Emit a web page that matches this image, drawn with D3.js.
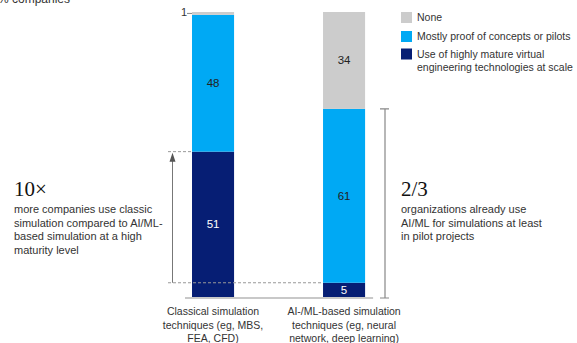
<!DOCTYPE html>
<html lang="en">
<head>
<meta charset="UTF-8">
<title>Simulation techniques</title>
<script src="https://d3js.org/d3.v7.min.js"></script>
<style>
  body { margin: 0; background: #fff; font-family: "Liberation Sans", Arial, Helvetica, sans-serif; }
  svg { display: block; }
</style>
</head>
<body>
<div id="chart"></div>
<script>
// data
var categories = ["Classical simulation techniques (eg, MBS, FEA, CFD)",
                  "AI-/ML-based simulation techniques (eg, neural network, deep learning)"];
var categoryLines = [["Classical simulation", "techniques (eg, MBS,", "FEA, CFD)"],
                     ["AI-/ML-based simulation", "techniques (eg, neural", "network, deep learning)"]];
var seriesNames = ["Use of highly mature virtual engineering technologies at scale",
                   "Mostly proof of concepts or pilots", "None"];
var matureValues = [51, 5];
var pilotValues = [48, 61];
var noneValues = [1, 34];
var colors = ["#061e74", "#00a9f4", "#cccccc"];

var width = 577, height = 343;
var svg = d3.select('#chart').append('svg')
  .attr('width', width)
  .attr('height', height);

var x = d3.scaleBand().domain(categories).range([126.5, 430.6]).paddingInner(0.679).paddingOuter(0.5);
var y = d3.scaleLinear().domain([0, 100]).range([297, 12]);

var rows = categories.map(function(c, i) {
  return { cat: c, mature: matureValues[i], pilot: pilotValues[i], none: noneValues[i] };
});
var stack = d3.stack().keys(["mature", "pilot", "none"])(rows);

// y axis label (cropped at top, as in the source)
svg.append('text')
  .attr('x', -2).attr('y', 3)
  .attr('font-size', 12).attr('fill', '#333')
  .text('% companies');

// bars
var groups = svg.selectAll('g.series')
  .data(stack).enter().append('g')
  .attr('class', 'series')
  .attr('fill', function(d, i) { return colors[i]; });

groups.selectAll('rect')
  .data(function(d) { return d; })
  .enter().append('rect')
  .attr('x', function(d) { return x(d.data.cat); })
  .attr('width', x.bandwidth())
  .attr('y', function(d) { return y(d[1]); })
  .attr('height', function(d) { return y(d[0]) - y(d[1]); });

// value labels
stack.forEach(function(s, si) {
  s.forEach(function(d, ci) {
    var v = d[1] - d[0];
    if (v < 3) {
      // small segment label with leader
      svg.append('text')
        .attr('x', x(d.data.cat) - 5).attr('y', y(d[1]) + 4)
        .attr('text-anchor', 'end').attr('font-size', 11).attr('fill', '#333')
        .text(v);
      svg.append('line')
        .attr('x1', x(d.data.cat) - 5).attr('x2', x(d.data.cat))
        .attr('y1', y((d[0] + d[1]) / 2)).attr('y2', y((d[0] + d[1]) / 2))
        .attr('stroke', '#888').attr('stroke-width', 1);
      return;
    }
    svg.append('text')
      .attr('x', x(d.data.cat) + x.bandwidth() / 2)
      .attr('y', y((d[0] + d[1]) / 2) + 4)
      .attr('text-anchor', 'middle')
      .attr('font-size', 11.5)
      .attr('fill', si === 0 ? '#fff' : '#222')
      .text(v);
  });
});

// baseline
svg.append('line')
  .attr('x1', x(categories[0]) - 7).attr('x2', x(categories[1]) + x.bandwidth() + 8)
  .attr('y1', y(0) + 1).attr('y2', y(0) + 1)
  .attr('stroke', '#c8c8c8').attr('stroke-width', 2);

// dashed guides
var leftTop = y(matureValues[0]);
var rightTop = y(matureValues[1]);
svg.append('line')
  .attr('x1', 168).attr('x2', x(categories[0]))
  .attr('y1', leftTop).attr('y2', leftTop)
  .attr('stroke', '#999').attr('stroke-dasharray', '3,2');
svg.append('line')
  .attr('x1', 168).attr('x2', x(categories[1]))
  .attr('y1', rightTop).attr('y2', rightTop)
  .attr('stroke', '#999').attr('stroke-dasharray', '3,2');

// arrow
var ax0 = 172.5;
svg.append('line')
  .attr('x1', ax0).attr('x2', ax0)
  .attr('y1', rightTop).attr('y2', leftTop + 6)
  .attr('stroke', '#777').attr('stroke-width', 1);
svg.append('path')
  .attr('d', 'M' + ax0 + ',' + (leftTop + 1) + 'L' + (ax0 + 3) + ',' + (leftTop + 10) + 'L' + (ax0 - 3) + ',' + (leftTop + 10) + 'Z')
  .attr('fill', '#555');

// bracket right
var bx = 385;
var bTop = y(matureValues[1] + pilotValues[1]);
svg.append('path')
  .attr('d', 'M' + (bx - 5) + ',' + bTop + 'H' + (bx + 4) + 'M' + bx + ',' + bTop + 'V' + (y(0) + 1) + 'M' + (bx - 5) + ',' + (y(0) + 1) + 'H' + (bx + 4))
  .attr('fill', 'none').attr('stroke', '#888').attr('stroke-width', 1.2);

// category labels
categoryLines.forEach(function(lines, i) {
  var t = svg.append('text')
    .attr('text-anchor', 'middle').attr('font-size', 10.5).attr('fill', '#333');
  lines.forEach(function(l, j) {
    t.append('tspan').attr('x', x(categories[i]) + x.bandwidth() / 2)
      .attr('y', 315 + j * 13.5).text(l);
  });
});

// legend
var legendItems = [
  { color: colors[2], lines: ["None"] },
  { color: colors[1], lines: ["Mostly proof of concepts or pilots"] },
  { color: colors[0], lines: ["Use of highly mature virtual", "engineering technologies at scale"] }
];
var ly = [12, 31, 48.5];
legendItems.forEach(function(it, i) {
  svg.append('rect').attr('x', 401).attr('y', ly[i]).attr('width', 11).attr('height', 11).attr('fill', it.color);
  var t = svg.append('text').attr('font-size', 10.5).attr('fill', '#333');
  it.lines.forEach(function(l, j) {
    t.append('tspan').attr('x', 417).attr('y', ly[i] + 9 + j * 13.5).text(l);
  });
});

// annotations
function annotation(ax, big, lines) {
  svg.append('text')
    .attr('x', ax).attr('y', 196)
    .attr('font-family', '"Liberation Serif", "DejaVu Serif", serif')
    .attr('font-size', 21).attr('fill', '#111')
    .text(big);
  var t = svg.append('text').attr('font-size', 11).attr('fill', '#333');
  lines.forEach(function(l, j) {
    t.append('tspan').attr('x', ax).attr('y', 213 + j * 13.5).text(l);
  });
}
annotation(14, "10\u00d7", ["more companies use classic", "simulation compared to AI/ML-", "based simulation at a high", "maturity level"]);
annotation(401, "2/3", ["organizations already use", "AI/ML for simulations at least", "in pilot projects"]);
</script>
</body>
</html>
